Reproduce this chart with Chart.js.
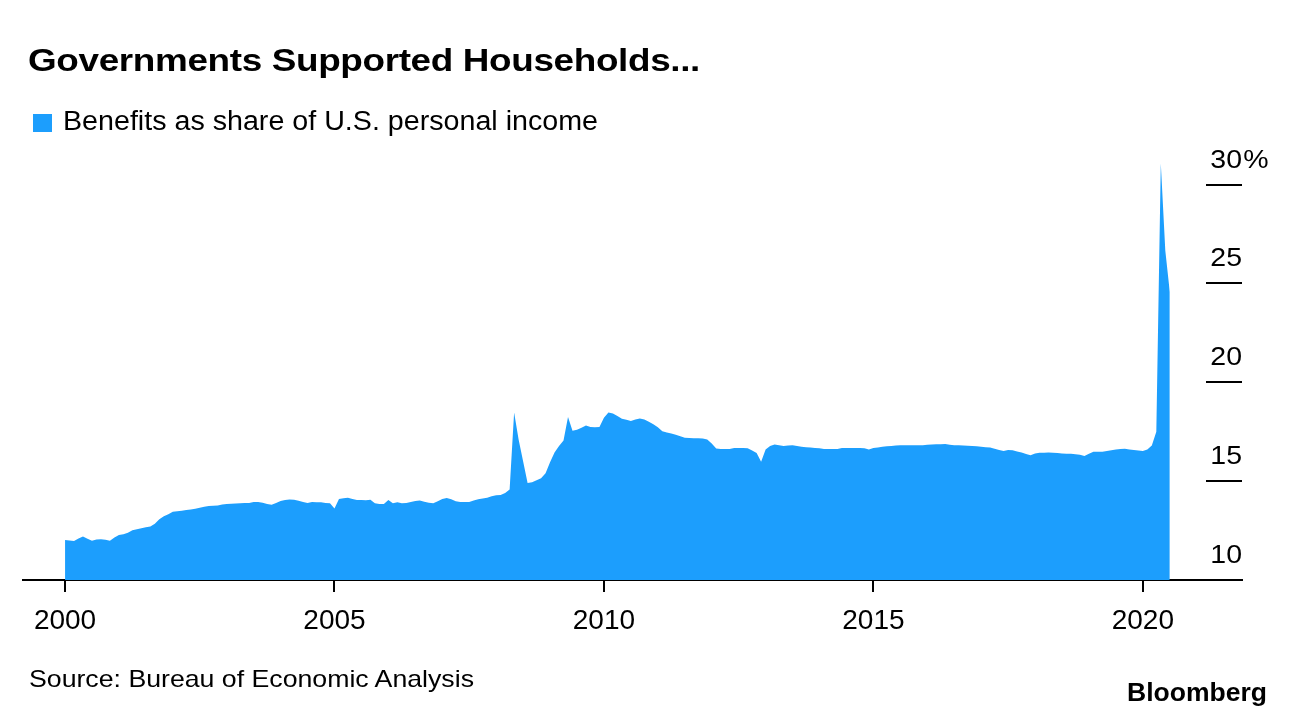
<!DOCTYPE html>
<html>
<head>
<meta charset="utf-8">
<title>Governments Supported Households...</title>
<script src="https://cdn.jsdelivr.net/npm/chart.js@4.4.1/dist/chart.umd.min.js"></script>
<style>
  html, body { margin: 0; padding: 0; background: #fff; }
  body { width: 1296px; height: 718px; position: relative; overflow: hidden;
         font-family: "Liberation Sans", Arial, sans-serif; color: #000; }
  #chart { position: absolute; left: 0; top: 0; }
  .txt { position: absolute; line-height: 1; white-space: nowrap; transform-origin: 0 0; }
  #title { left: 28px; top: 45px; font-size: 31px; font-weight: 700; letter-spacing: -0.3px; }
  #legend-box { position: absolute; left: 33px; top: 114px; width: 19px; height: 18px; background: #1c9efd; }
  #legend { left: 63px; top: 108px; font-size: 27px; }
  #source { left: 29px; top: 667px; font-size: 24px; }
  #brand { left: 1127px; top: 679px; font-size: 26px; font-weight: 700; }
</style>
</head>
<body>
<canvas id="chart" width="1296" height="718"></canvas>
<div id="title" class="txt" data-w="672">Governments Supported Households...</div>
<div id="legend-box"></div>
<div id="legend" class="txt" data-w="535">Benefits as share of U.S. personal income</div>
<div id="source" class="txt" data-w="445">Source: Bureau of Economic Analysis</div>
<div id="brand" class="txt" data-w="140">Bloomberg</div>

<script>
// Benefits as share of U.S. personal income (%), monthly, first value = Dec 1999
const firstYear = 1999;
const firstMonth = 12;
const benefits = [
  12.02, 12.0, 11.97, 12.1, 12.2, 12.08, 11.98, 12.05, 12.06, 12.04,
  11.98, 12.15, 12.27, 12.32, 12.39, 12.52, 12.57, 12.62, 12.67, 12.71,
  12.85, 13.07, 13.22, 13.33, 13.45, 13.48, 13.5, 13.54, 13.56, 13.6,
  13.65, 13.71, 13.74, 13.75, 13.77, 13.82, 13.85, 13.86, 13.87, 13.88,
  13.89, 13.9, 13.94, 13.95, 13.91, 13.84, 13.81, 13.9, 14.0, 14.05,
  14.07, 14.06, 14.01, 13.95, 13.9, 13.94, 13.93, 13.93, 13.9, 13.88,
  13.62, 14.1, 14.14, 14.16, 14.1, 14.05, 14.04, 14.03, 14.06, 13.88,
  13.84, 13.85, 14.05, 13.88, 13.93, 13.88, 13.9, 13.95, 14.0, 14.02,
  13.96, 13.91, 13.88, 13.98, 14.1, 14.15, 14.09, 13.98, 13.95, 13.95,
  13.95, 14.02, 14.08, 14.12, 14.16, 14.23, 14.28, 14.3, 14.4, 14.58,
  18.47, 17.1, 16.0, 14.9, 14.95, 15.05, 15.15, 15.4, 15.95, 16.45,
  16.78, 17.05, 18.25, 17.55, 17.6, 17.7, 17.82, 17.74, 17.72, 17.74,
  18.2, 18.47, 18.42, 18.3, 18.15, 18.1, 18.04, 18.12, 18.17, 18.12,
  18.0, 17.88, 17.72, 17.52, 17.46, 17.41, 17.35, 17.27, 17.2, 17.18,
  17.17, 17.17, 17.16, 17.1, 16.9, 16.65, 16.62, 16.62, 16.62, 16.67,
  16.68, 16.68, 16.66, 16.55, 16.42, 15.98, 16.6, 16.78, 16.85, 16.82,
  16.78, 16.8, 16.82, 16.78, 16.74, 16.72, 16.7, 16.68, 16.66, 16.63,
  16.62, 16.62, 16.62, 16.67, 16.68, 16.68, 16.68, 16.68, 16.66, 16.6,
  16.68, 16.7, 16.74, 16.76, 16.78, 16.8, 16.82, 16.82, 16.82, 16.82,
  16.82, 16.82, 16.84, 16.85, 16.86, 16.86, 16.88, 16.84, 16.82, 16.81,
  16.8, 16.79, 16.78, 16.77, 16.74, 16.72, 16.7, 16.64, 16.58, 16.53,
  16.58, 16.56, 16.5, 16.45, 16.37, 16.31, 16.4, 16.44, 16.44, 16.45,
  16.43, 16.42, 16.4, 16.39, 16.38, 16.36, 16.33, 16.27, 16.38, 16.48,
  16.48, 16.48, 16.52, 16.56, 16.6, 16.63, 16.64, 16.6, 16.57, 16.55,
  16.53, 16.6, 16.8, 17.5, 31.06, 26.67, 24.56
];
const xTicks = [2000, 2005, 2010, 2015, 2020];
const yTicks = [10, 15, 20, 25, 30];

const blue = "#1c9efd";

// month-end dates as decimal years
const points = benefits.map((v, i) => ({
  x: firstYear + (firstMonth + i) / 12,
  y: v
}));

// short rules with the value sitting on top, inside the plot on the right
const yAxisLabels = {
  id: "yAxisLabels",
  afterDraw(chart) {
    const { ctx, chartArea, scales: { y } } = chart;
    const right = chartArea.right;
    ctx.save();
    ctx.fillStyle = "#000";
    ctx.strokeStyle = "#000";
    ctx.lineWidth = 2;
    ctx.font = '25px "Liberation Sans"';
    yTicks.forEach((v, i) => {
      const py = Math.round(y.getPixelForValue(v));
      if (i > 0) {
        ctx.beginPath();
        ctx.moveTo(right - 36, py);
        ctx.lineTo(right, py);
        ctx.stroke();
      }
      ctx.save();
      ctx.translate(right, py - 17.5);
      ctx.scale(1.14, 1);
      ctx.textAlign = "right";
      ctx.textBaseline = "alphabetic";
      ctx.fillText(String(v), 0, 0);
      if (i === yTicks.length - 1) {
        ctx.textAlign = "left";
        ctx.fillText("%", 1, 0);
      }
      ctx.restore();
    });
    ctx.restore();
  }
};

Chart.defaults.font.family = '"Liberation Sans", Arial, sans-serif';
Chart.defaults.color = "#000";

new Chart(document.getElementById("chart"), {
  type: "line",
  data: {
    datasets: [{
      label: "Benefits as share of U.S. personal income",
      data: points,
      fill: "start",
      backgroundColor: blue,
      borderColor: "rgba(0,0,0,0)",
      borderWidth: 0,
      pointRadius: 0,
      tension: 0
    }]
  },
  options: {
    responsive: false,
    animation: false,
    devicePixelRatio: 1,
    layout: { padding: { left: 23, right: 54, top: 145, bottom: 68.4 } },
    plugins: {
      legend: { display: false },
      tooltip: { enabled: false }
    },
    scales: {
      x: {
        type: "linear",
        min: 1999.22,
        max: 2021.84,
        z: 1,
        afterBuildTicks: (scale) => {
          scale.ticks = xTicks.map(v => ({ value: v }));
        },
        ticks: {
          font: { size: 28 },
          color: "#000",
          padding: 12,
          maxRotation: 0,
          callback: (v) => String(v)
        },
        grid: {
          drawOnChartArea: false,
          tickLength: 12,
          tickColor: "#000",
          lineWidth: 2
        },
        border: { color: "#000", width: 2 }
      },
      y: {
        display: false,
        min: 10,
        max: 32
      }
    }
  },
  plugins: [yAxisLabels]
});

// the original lettering runs a little wider than Liberation Sans
document.querySelectorAll(".txt").forEach(el => {
  const w = el.getBoundingClientRect().width;
  el.style.transform = "scaleX(" + (Number(el.dataset.w) / w) + ")";
});
</script>
</body>
</html>
